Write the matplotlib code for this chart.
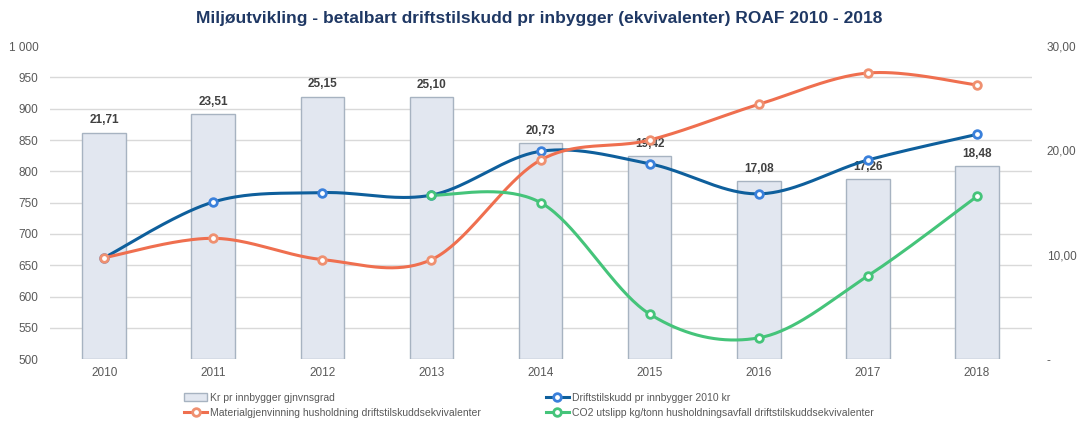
import matplotlib.pyplot as plt
import numpy as np
from matplotlib.lines import Line2D
from matplotlib.patches import Patch
from matplotlib.ticker import FuncFormatter

plt.rcParams["font.family"] = ["Liberation Sans", "DejaVu Sans"]

years = ["2010", "2011", "2012", "2013", "2014", "2015", "2016", "2017", "2018"]
kr_per_innbygger = [21.71, 23.51, 25.15, 25.10, 20.73, 19.42, 17.08, 17.26, 18.48]
driftstilskudd = [662, 751, 766, 762, 832, 812, 764, 818, 859]
materialgjenvinning = [662, 693, 659, 659, 818, 850, 907, 957, 938]
co2_utslipp = [np.nan, np.nan, np.nan, 762, 750, 572, 534, 633, 760]

bar_label = "Kr pr innbygger gjnvnsgrad"
blue_label = "Driftstilskudd pr innbygger 2010 kr"
orange_label = "Materialgjenvinning husholdning driftstilskuddsekvivalenter"
green_label = "CO2 utslipp kg/tonn husholdningsavfall driftstilskuddsekvivalenter"
title = "Miljøutvikling - betalbart driftstilskudd pr inbygger (ekvivalenter) ROAF 2010 - 2018"


def smooth(x, y, n=40):
    # Excel-style smoothed line: cubic bezier through points
    x = np.asarray(x, float)
    y = np.asarray(y, float)
    px, py = [], []
    for i in range(len(x) - 1):
        i0, i3 = max(i - 1, 0), min(i + 2, len(x) - 1)
        p0, p1, p2, p3 = (np.array([x[k], y[k]]) for k in (i0, i, i + 1, i3))
        c1 = p1 + (p2 - p0) / 6
        c2 = p2 - (p3 - p1) / 6
        t = np.linspace(0, 1, n)[:, None]
        pts = (1 - t) ** 3 * p1 + 3 * (1 - t) ** 2 * t * c1 + 3 * (1 - t) * t ** 2 * c2 + t ** 3 * p2
        px.extend(pts[:, 0])
        py.extend(pts[:, 1])
    return np.array(px), np.array(py)


fig = plt.figure(figsize=(10.79, 4.23), dpi=100)
ax_bar = fig.add_axes([0.046, 0.151, 0.91, 0.74])
ax = ax_bar.twinx()

x = np.arange(len(years))
grey = "#595959"

ax_bar.bar(x, kr_per_innbygger, width=0.4, color="#e2e7f0", edgecolor="#a7b3c1", linewidth=1.0, zorder=2)
for xi, v in zip(x, kr_per_innbygger):
    ax_bar.text(xi, v + 0.6, f"{v:.2f}".replace(".", ","), ha="center", va="bottom",
                fontsize=8.5, fontweight="bold", color="#404040", zorder=5)
ax_bar.set_ylim(0, 30)
ax_bar.set_yticks([0, 10, 20, 30])
ax_bar.set_yticks(np.arange(0, 31, 3), minor=True)
ax_bar.yaxis.set_major_formatter(FuncFormatter(lambda v, p: "-" if v == 0 else f"{v:.2f}".replace(".", ",")))
ax_bar.yaxis.tick_right()
ax_bar.grid(which="minor", axis="y", color="#d9d9d9", linewidth=1.0, zorder=0)
ax_bar.set_axisbelow(True)
ax_bar.tick_params(axis="y", which="both", length=0, labelsize=8.5, labelcolor=grey, pad=11)
ax_bar.set_xticks(x)
ax_bar.set_xticklabels(years)
ax_bar.tick_params(axis="x", length=0, labelsize=8.5, labelcolor=grey, pad=6)
ax_bar.set_xlim(-0.5, len(years) - 0.5)

series = [
    (driftstilskudd, "#0e5f9c", "#3a80db"),
    (materialgjenvinning, "#ef6f4f", "#ef9070"),
    (co2_utslipp, "#45c47a", "#45c47a"),
]
for vals, lc, mc in series:
    vals = np.asarray(vals, float)
    ok = ~np.isnan(vals)
    sx, sy = smooth(x[ok], vals[ok])
    ax.plot(sx, sy, color=lc, linewidth=2.2, zorder=3, solid_capstyle="round")
    ax.plot(x[ok], vals[ok], linestyle="none", marker="o", markersize=5.5,
            markerfacecolor="white", markeredgecolor=mc, markeredgewidth=2.0, zorder=4)

ax.set_ylim(500, 1000)
ax.set_yticks(np.arange(500, 1001, 50))
ax.yaxis.set_major_formatter(FuncFormatter(lambda v, p: f"{int(v):,}".replace(",", " ")))
ax.yaxis.tick_left()
ax.tick_params(axis="y", length=0, labelsize=8.5, labelcolor=grey, pad=8)

for a in (ax, ax_bar):
    for s in a.spines.values():
        s.set_visible(False)

fig.suptitle(title, x=0.5, y=0.975, fontsize=12.5, fontweight="bold", color="#1f3864")

handles = [
    Patch(facecolor="#e2e7f0", edgecolor="#a7b3c1", label=bar_label),
    Line2D([], [], color="#ef6f4f", lw=2.2, marker="o", mfc="white", mec="#ef9070", mew=2, ms=5.5, label=orange_label),
    Line2D([], [], color="#0e5f9c", lw=2.2, marker="o", mfc="white", mec="#3a80db", mew=2, ms=5.5, label=blue_label),
    Line2D([], [], color="#45c47a", lw=2.2, marker="o", mfc="white", mec="#45c47a", mew=2, ms=5.5, label=green_label),
]
fig.legend(handles=handles, ncol=2, loc="lower left", bbox_to_anchor=(0.162, -0.01), frameon=False,
           fontsize=7.5, labelcolor=grey, handlelength=2.2, handletextpad=0.3, columnspacing=6.2,
           labelspacing=0.5)

fig.savefig("out.png", dpi=100)
